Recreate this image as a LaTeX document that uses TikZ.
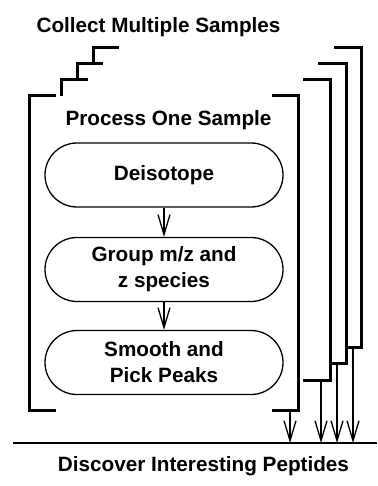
\documentclass[tikz,border=0pt]{standalone}
\usepackage{fontspec}
\setsansfont{Liberation Sans}
\usetikzlibrary{arrows.meta,positioning}

\begin{document}
\begin{tikzpicture}[
    x=1pt, y=-1pt,
    stage/.style={rectangle, draw, rounded corners=32pt, minimum width=238pt, minimum height=64pt, line width=1.3pt, font=\fontsize{20.7}{26}\selectfont\sffamily\bfseries, align=center, inner sep=0pt},
    title/.style={font=\fontsize{20.7}{26}\selectfont\sffamily\bfseries, anchor=base, inner sep=0pt},
    bracket/.style={line width=3pt},
    arrow/.style={-{Straight Barb[length=20pt, width=12pt]}, line width=1.3pt}
]
\useasboundingbox (0,0) rectangle (377,486);

\node[title] (collect) at (158.5,33) {Collect Multiple Samples};
\node[title] (process) at (168.5,126) {Process One Sample};
\node[title] (discover) at (203.5,471) {Discover Interesting Peptides};

\node[stage] (deiso) at (164,175) {Deisotope};
\node[stage] (group) at (164,269.5) {Group m/z and\\z species};
\node[stage] (smooth) at (164,362.5) {Smooth and\\Pick Peaks};

\draw[arrow] (deiso) -- (group);
\draw[arrow] (group) -- (smooth);

% front sample
\draw[bracket] (56,96) -- (29,96) -- (29,410) -- (56,410);
\draw[bracket] (272,96) -- (298,96) -- (298,410) -- (272,410);

% samples behind
\draw[bracket] (88,80) -- (61,80) -- (61,96);
\draw[bracket] (303,80) -- (330,80) -- (330,380) -- (303,380);
\draw[bracket] (103,64) -- (77,64) -- (77,80);
\draw[bracket] (318,64) -- (346,64) -- (346,363) -- (331,363);
\draw[bracket] (119,48) -- (93,48) -- (93,64);
\draw[bracket] (334,48) -- (361,48) -- (361,347) -- (347,347);

\coordinate (rule-l) at (13,443);
\coordinate (rule-r) at (377,443);
\draw[line width=1.5pt] (rule-l) -- (rule-r);

\coordinate (out0) at (290,410);
\coordinate (out1) at (321,380);
\coordinate (out2) at (337,363);
\coordinate (out3) at (353,347);
\coordinate (in0) at (290,443);
\coordinate (in1) at (321,443);
\coordinate (in2) at (337,443);
\coordinate (in3) at (353,443);
\draw[arrow] (out0) -- (in0);
\draw[arrow] (out1) -- (in1);
\draw[arrow] (out2) -- (in2);
\draw[arrow] (out3) -- (in3);
\end{tikzpicture}
\end{document}
